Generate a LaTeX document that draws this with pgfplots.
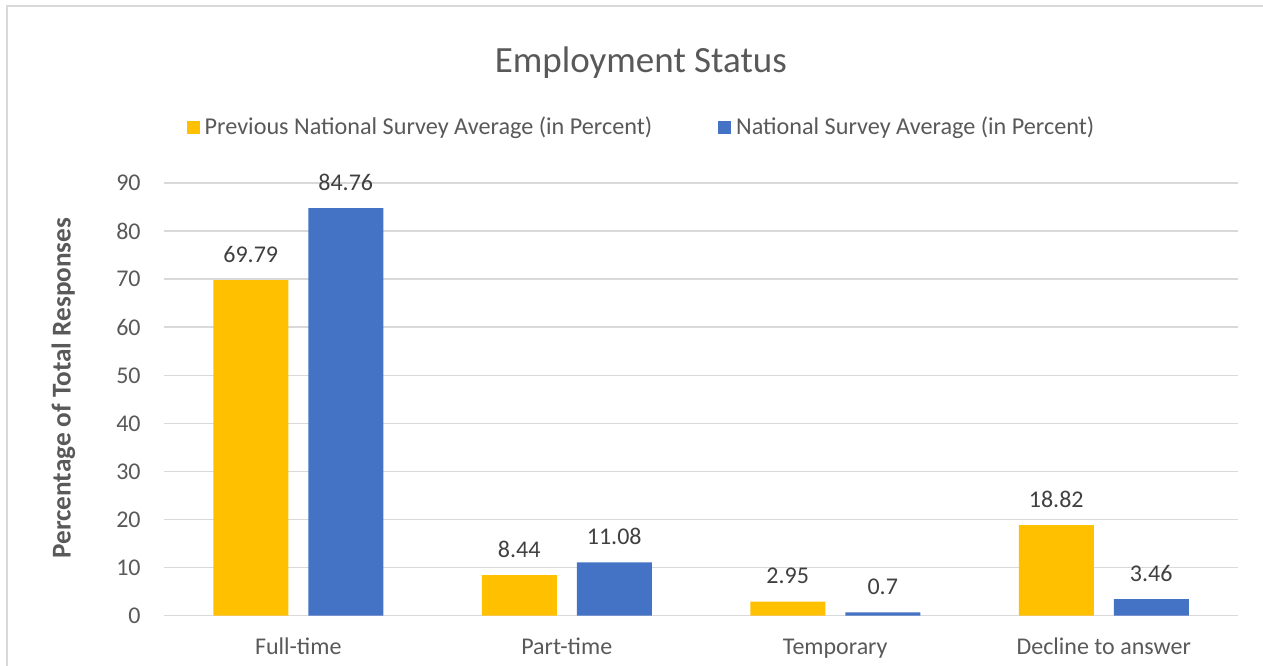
\documentclass[border=0pt]{standalone}
\usepackage{fontspec}
\setmainfont{Carlito}
\usepackage{pgfplots}
\pgfplotsset{compat=1.18}
\definecolor{cyellow}{HTML}{FFC000}
\definecolor{cblue}{HTML}{4472C4}
\definecolor{cgrid}{HTML}{D9D9D9}
\definecolor{ctext}{HTML}{595959}
\definecolor{clabel}{HTML}{404040}
\begin{document}
\begin{tikzpicture}
\useasboundingbox (0,0) rectangle (631.5pt,332.5pt);
\draw[cgrid, line width=1pt] (3.5pt,-5pt) -- (3.5pt,329.5pt) -- (640pt,329.5pt);
\begin{axis}[
  at={(82pt,24.65pt)}, anchor=south west,
  scale only axis, width=537pt, height=216.35pt,
  ybar=10pt, bar width=37.5pt,
  xmin=-0.5, xmax=3.5, ymin=0, ymax=90,
  xtick=data, xticklabels={Full-time,Part-time,Temporary,Decline to answer},
  ytick={0,10,...,90},
  major tick length=0pt,
  axis line style={draw=none},
  ymajorgrids, grid style={cgrid, line width=0.75pt},
  /pgf/number format/assume math mode=true,
  tick label style={font=\fontsize{12}{14}\selectfont, text=ctext},
  yticklabel style={anchor=east, inner sep=0pt, xshift=-11.5pt},
  xticklabel style={anchor=base, inner sep=0pt, yshift=-19.15pt},
  nodes near coords,
  nodes near coords style={font=\fontsize{12}{14}\selectfont, text=clabel, anchor=base, inner sep=0pt, yshift=9pt},
  title={Employment Status},
  title style={at={(0.444,1.2272)}, anchor=base, inner sep=0pt, font=\fontsize{18.5}{22}\selectfont, text=ctext},
  ylabel={Percentage of Total Responses},
  ylabel style={at={(axis description cs:-0.0869,0.526)}, anchor=base, inner sep=0pt, font=\bfseries\fontsize{13.6}{16}\selectfont, text=ctext},
  legend columns=2,
  legend style={draw=none, fill=none, at={(0.4455,1.1294)}, anchor=center,
    font=\fontsize{12.1}{14}\selectfont, text=ctext, cells={anchor=west},
    /tikz/every odd column/.append style={column sep=0.5pt},
    /tikz/every even column/.append style={column sep=31pt}},
]
\addplot[fill=cyellow, draw=none, legend image code/.code={\fill[cyellow] (0pt,-3.25pt) rectangle (6.5pt,3.25pt);}]
  coordinates {(0,69.79) (1,8.44) (2,2.95) (3,18.82)};
\addlegendentry{Previous National Survey Average (in Percent)}
\addplot[fill=cblue, draw=none, legend image code/.code={\fill[cblue] (0pt,-3.25pt) rectangle (6.5pt,3.25pt);}]
  coordinates {(0,84.76) (1,11.08) (2,0.7) (3,3.46)};
\addlegendentry{National Survey Average (in Percent)}
\end{axis}
\end{tikzpicture}
\end{document}
